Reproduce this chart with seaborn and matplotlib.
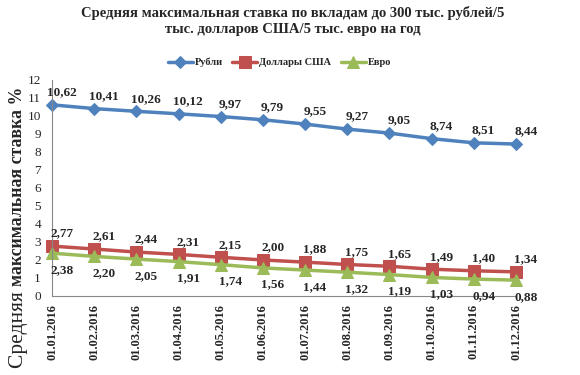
import matplotlib
matplotlib.use('Agg')
import matplotlib.pyplot as plt
import pandas as pd
import seaborn as sns

dates = ['01.01.2016', '01.02.2016', '01.03.2016', '01.04.2016', '01.05.2016', '01.06.2016',
         '01.07.2016', '01.08.2016', '01.09.2016', '01.10.2016', '01.11.2016', '01.12.2016']
rub = [10.62, 10.41, 10.26, 10.12, 9.97, 9.79, 9.55, 9.27, 9.05, 8.74, 8.51, 8.44]
usd = [2.77, 2.61, 2.44, 2.31, 2.15, 2.00, 1.88, 1.75, 1.65, 1.49, 1.40, 1.34]
eur = [2.38, 2.20, 2.05, 1.91, 1.74, 1.56, 1.44, 1.32, 1.19, 1.03, 0.94, 0.88]
series_names = ['Рубли', 'Доллары США', 'Евро']

sns.set_style('white')
plt.rcParams['font.family'] = ['Liberation Serif', 'DejaVu Serif']

fig = plt.figure(figsize=(5.8, 3.75), dpi=100)
ax = fig.add_axes([0.0897, 0.2107, 0.8, 0.576])

colors = ['#4F81BD', '#C0504D', '#9BBB59']
markers = ['D', 's', '^']
msizes = [6, 8, 8]
offsets = [9, 9, -12]
x = list(range(len(dates)))

for name, vals, c, m, ms, off in zip(series_names, [rub, usd, eur], colors, markers, msizes, offsets):
    df = pd.DataFrame({'x': x, 'y': vals})
    sns.lineplot(data=df, x='x', y='y', ax=ax, color=c, linewidth=2.5, marker=m,
                 markersize=ms, markeredgecolor=c, label=name, clip_on=False)
    for xi, v in zip(x, vals):
        ax.annotate(f'{v:.2f}'.replace('.', ','), (xi, v), xytext=(7, off),
                    textcoords='offset points', ha='center', va='center',
                    fontsize=9.5, fontweight='bold')

ax.set_xlim(0, 11)
ax.set_ylim(0, 12)
ax.set_yticks(range(0, 13))
ax.set_xticks(x)
ax.set_xticklabels(dates, rotation=90, fontsize=9, fontweight='bold')
ax.tick_params(axis='y', labelsize=9.5, length=0, pad=8)
ax.tick_params(axis='x', length=0, pad=6)
ax.set_xlabel('')
ax.set_ylabel('')
for s in ['top', 'right']:
    ax.spines[s].set_visible(False)
for s in ['left', 'bottom']:
    ax.spines[s].set_color('#888888')
    ax.spines[s].set_linewidth(0.8)

# y label: first word regular and larger, rest bold (as in the source)
H = 375.0
t1 = fig.text(18 / 580, 1 - 368 / H, 'Средняя ', rotation=90, rotation_mode='anchor',
              fontsize=15.5, ha='left', va='center')
fig.canvas.draw()
bb = t1.get_window_extent()
fig.text(18 / 580, bb.y1 / fig.bbox.height, 'максимальная ставка %', rotation=90,
         rotation_mode='anchor', fontsize=12.8, fontweight='bold', ha='left', va='center')

leg = ax.legend(loc='center', bbox_to_anchor=(0.49, 1.08), ncol=3, frameon=False,
                prop={'weight': 'bold', 'size': 7.5}, handlelength=2.4, columnspacing=0.9,
                handletextpad=0.2)

fig.suptitle('Средняя максимальная ставка по вкладам до 300 тыс. рублей/5\nтыс. долларов США/5 тыс. евро на год',
             x=0.505, y=0.985, fontsize=10.5, fontweight='bold', linespacing=1.35)

fig.savefig('out.png', dpi=100)
